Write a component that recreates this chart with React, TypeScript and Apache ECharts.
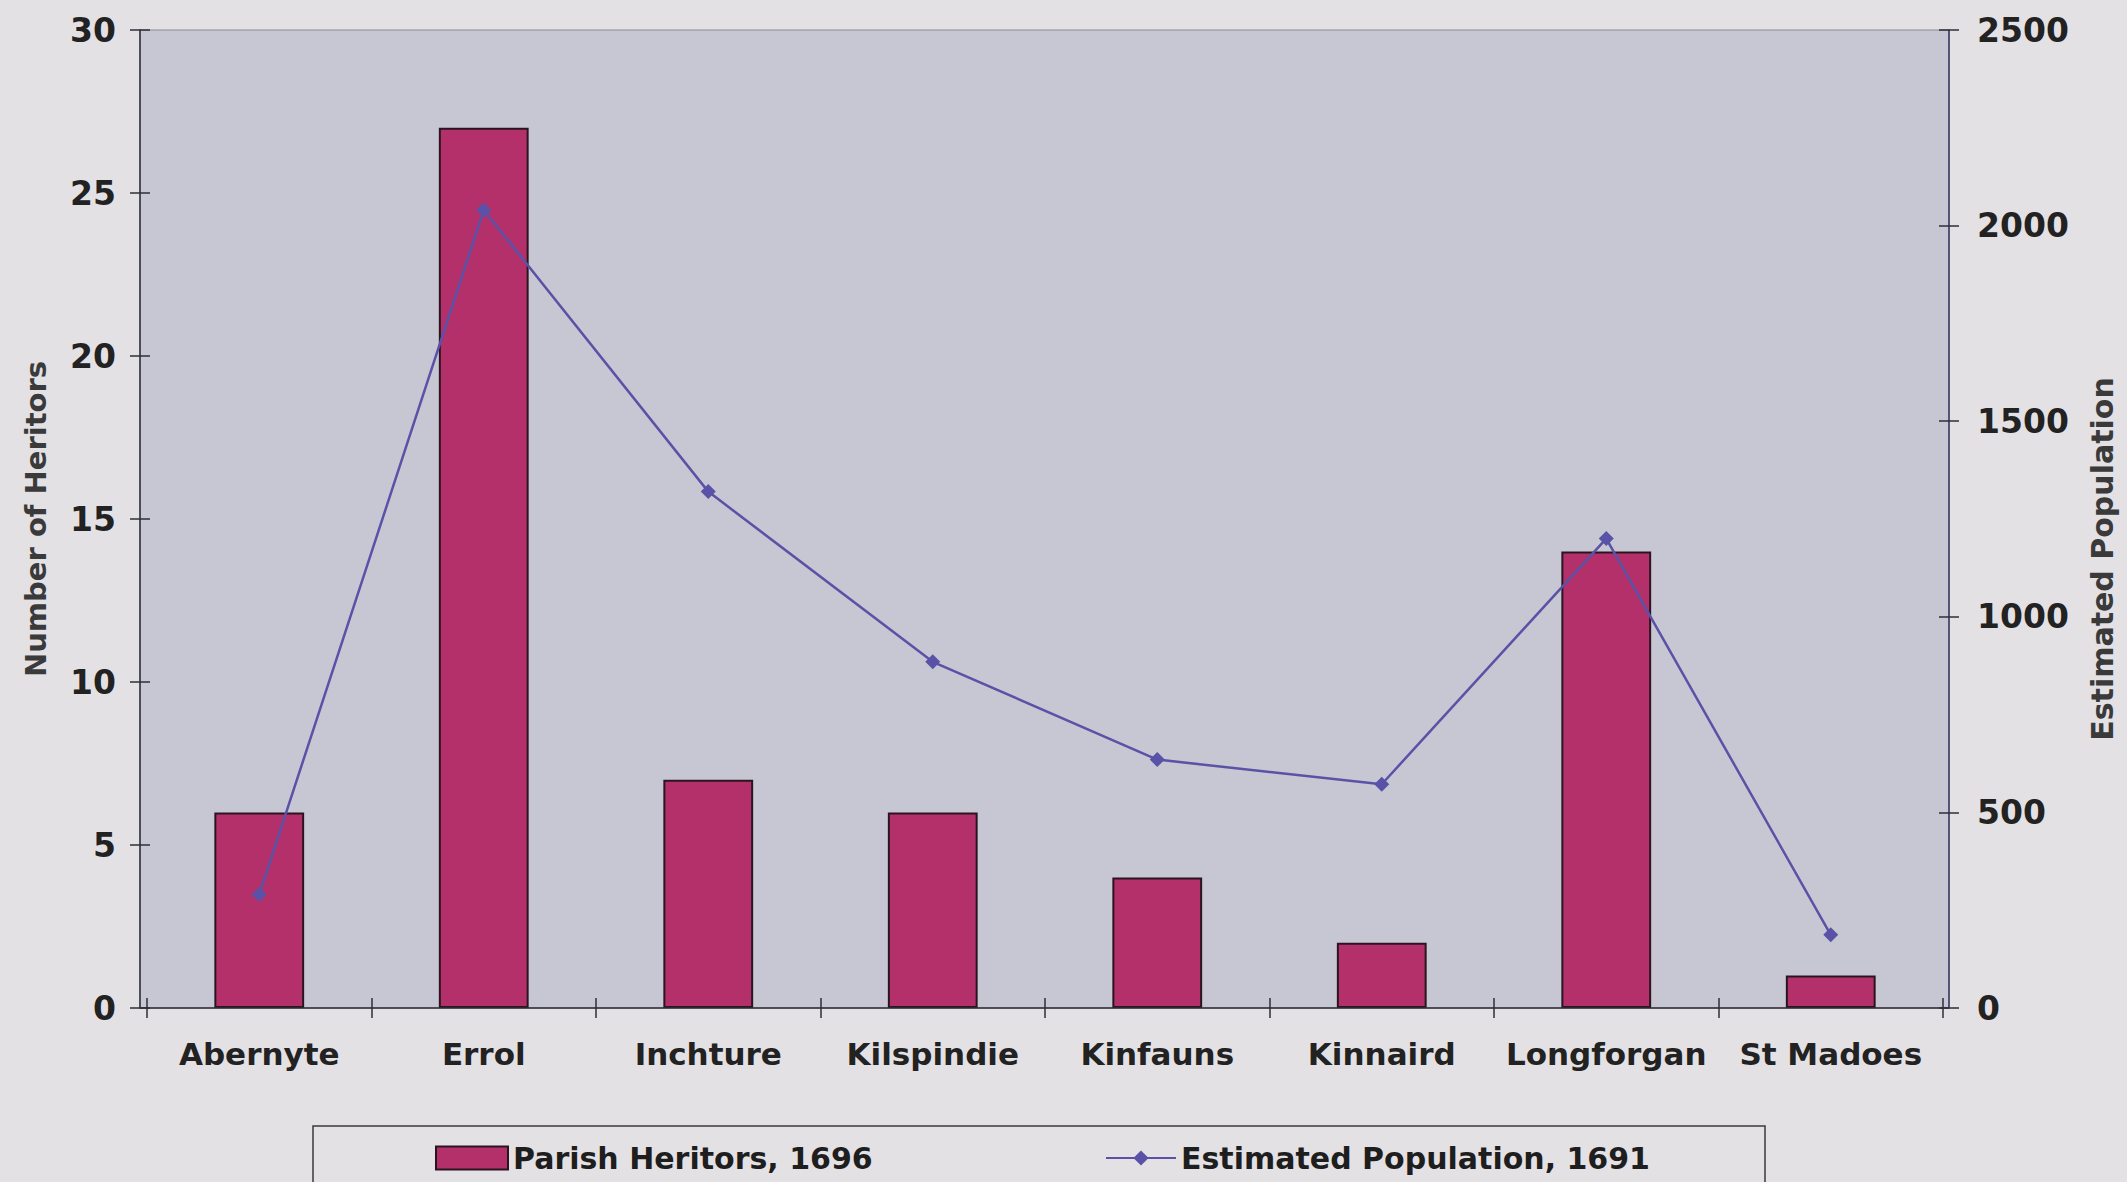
import React, { useEffect, useRef } from "react";
import * as echarts from "echarts";

const categories = ["Abernyte", "Errol", "Inchture", "Kilspindie", "Kinfauns", "Kinnaird", "Longforgan", "St Madoes"];
const heritors = [6, 27, 7, 6, 4, 2, 14, 1];
const population = [290, 2040, 1320, 885, 635, 572, 1200, 187];
const leftAxis = { min: 0, max: 30, interval: 5 };
const rightAxis = { min: 0, max: 2500, interval: 500 };
const barName = "Parish Heritors, 1696";
const lineName = "Estimated Population, 1691";
const leftTitle = "Number of Heritors";
const rightTitle = "Estimated Population";

const FONT = "DejaVu Sans";
const AXIS_DARK = "#2e2e36";

export default function App() {
  const ref = useRef<HTMLDivElement>(null);
  useEffect(() => {
    document.body.style.margin = "0";
    const chart = echarts.init(ref.current!, undefined, { renderer: "svg" });
    const labelStyle = { fontFamily: FONT, fontWeight: "bold" as const, color: "#222", fontSize: 33 };
    const legendText = { fontFamily: FONT, fontWeight: "bold" as const, fontSize: 30, color: "#1e1e1e" };
    chart.setOption({
      animation: false,
      backgroundColor: "#e4e1e5",
      grid: {
        left: 147,
        right: 184,
        top: 30,
        bottom: 174,
        show: false,
      },
      legend: [
        {
          left: 430,
          top: 1138,
          itemWidth: 72,
          itemHeight: 23,
          icon: "rect",
          textStyle: legendText,
          data: [barName],
        },
        {
          left: 1100,
          top: 1138,
          itemWidth: 70,
          itemHeight: 19,
          textStyle: legendText,
          data: [lineName],
        },
      ],
      graphic: [
        {
          type: "rect",
          shape: { x: 140, y: 30, width: 1809, height: 978 },
          style: { fill: "#c7c7d3", stroke: "#8a8a96", lineWidth: 1 },
          z: -10,
          silent: true,
        },
        {
          type: "line",
          shape: { x1: 140, y1: 1008, x2: 1949, y2: 1008 },
          style: { stroke: AXIS_DARK, lineWidth: 1.5 },
          z: 5,
          silent: true,
        },
        {
          type: "rect",
          shape: { x: 313, y: 1126, width: 1452, height: 80 },
          style: { fill: "none", stroke: "#3a3a3a", lineWidth: 1.5 },
          z: -1,
          silent: true,
        },
      ],
      xAxis: [
        {
          type: "category",
          data: categories,
          boundaryGap: true,
          axisLine: { show: false },
          axisTick: { show: true, length: 10, alignWithLabel: false, lineStyle: { color: AXIS_DARK, width: 1.5 } },
          axisLabel: { ...labelStyle, fontSize: 31, margin: 30, interval: 0 },
          splitLine: { show: false },
        },
        {
          type: "category",
          data: categories,
          position: "bottom",
          axisLine: { show: false },
          axisTick: { show: true, inside: true, length: 10, lineStyle: { color: AXIS_DARK, width: 1.5 } },
          axisLabel: { show: false },
          splitLine: { show: false },
        },
      ],
      yAxis: [
        {
          type: "value",
          position: "left",
          offset: 7,
          ...leftAxis,
          name: leftTitle,
          nameLocation: "middle",
          nameRotate: 90,
          nameGap: 90,
          nameTextStyle: { fontFamily: FONT, fontWeight: "bold", fontSize: 29, color: "#3a3a3a" },
          axisLine: { show: true, lineStyle: { color: AXIS_DARK, width: 1.5 } },
          axisTick: { show: true, length: 10, lineStyle: { color: AXIS_DARK, width: 1.5 } },
          axisLabel: { ...labelStyle, margin: 24 },
          splitLine: { show: false },
        },
        {
          type: "value",
          position: "right",
          offset: 6,
          ...rightAxis,
          name: rightTitle,
          nameLocation: "middle",
          nameRotate: 90,
          nameGap: 138,
          nameTextStyle: {
            fontFamily: FONT,
            fontWeight: "bold",
            fontSize: 30,
            color: "#3a3a3a",
            padding: [0, 80, 0, 0],
          },
          axisLine: { show: true, lineStyle: { color: "#3a3560", width: 1.5 } },
          axisTick: { show: true, length: 10, lineStyle: { color: AXIS_DARK, width: 1.5 } },
          axisLabel: { ...labelStyle, margin: 28, formatter: (v: number) => String(v) },
          splitLine: { show: false },
        },
        {
          type: "value",
          position: "left",
          offset: 7,
          ...leftAxis,
          axisLine: { show: false },
          axisTick: { show: true, inside: true, length: 10, lineStyle: { color: AXIS_DARK, width: 1.5 } },
          axisLabel: { show: false },
          splitLine: { show: false },
        },
        {
          type: "value",
          position: "right",
          offset: 6,
          ...rightAxis,
          axisLine: { show: false },
          axisTick: { show: true, inside: true, length: 10, lineStyle: { color: AXIS_DARK, width: 1.5 } },
          axisLabel: { show: false },
          splitLine: { show: false },
        },
      ],
      series: [
        {
          name: barName,
          type: "bar",
          xAxisIndex: 0,
          yAxisIndex: 0,
          data: heritors,
          barWidth: "40%",
          itemStyle: { color: "#b3306a", borderColor: "#2a1420", borderWidth: 2 },
          z: 2,
        },
        {
          name: lineName,
          type: "line",
          xAxisIndex: 0,
          yAxisIndex: 1,
          data: population,
          symbol: "diamond",
          symbolSize: 15,
          lineStyle: { color: "#5a52a6", width: 2.5 },
          itemStyle: { color: "#5a52a6" },
          z: 3,
        },
      ],
    });
    return () => chart.dispose();
  }, []);
  return <div ref={ref} style={{ width: 2127, height: 1182 }} />;
}
